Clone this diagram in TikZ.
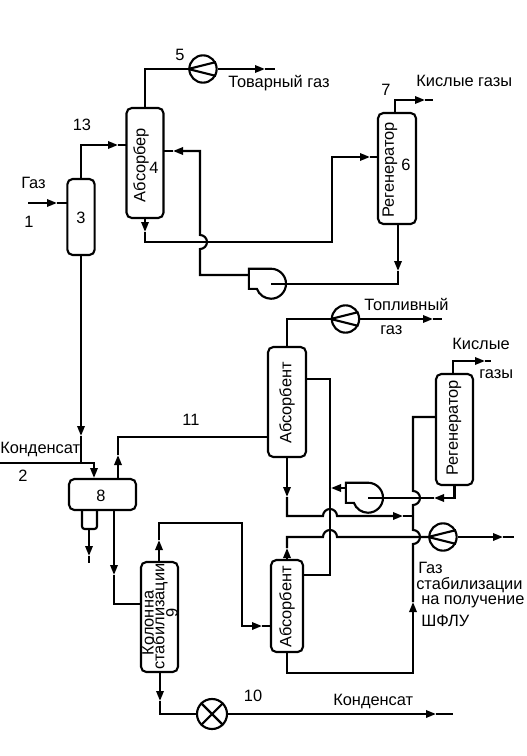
\documentclass[tikz,border=0pt]{standalone}
\usepackage{fontspec}
\setmainfont{Liberation Sans}
\usetikzlibrary{arrows.meta, positioning, shapes}
\newcommand{\humpup}{arc[start angle=180,end angle=0,radius=5.25pt]}
\newcommand{\humpright}{arc[start angle=90,end angle=-90,radius=5.25pt]}
\newcommand{\humpback}{arc[start angle=-90,end angle=90,radius=5.25pt]}

\begin{document}
\begin{tikzpicture}[x=0.75pt,y=-0.75pt,
          wire/.style={draw,line width=1.6pt,line join=miter},
          tip/.style={-{Triangle[length=7.5pt,width=5.5pt]}},
          vessel/.style={draw,line width=1.6pt,rounded corners=4pt,inner sep=0pt},
          comp/.style={draw,circle,line width=1.6pt,minimum size=20.5pt,inner sep=0pt},
          pumpbody/.style={circle,minimum size=22.5pt,inner sep=0pt},
          txt/.style={font=\fontsize{12.3}{12}\selectfont,inner sep=0pt},
          vtxt/.style={txt,rotate=90}]
        \useasboundingbox (0,0) rectangle (527,756);
        % apparatus
        \node[vessel,minimum width=20.5pt,minimum height=57pt](sep3) at (81,217){};
        \node[vessel,minimum width=27.75pt,minimum height=82.5pt](abs4) at (145,163){};
        \node[vessel,minimum width=28.5pt,minimum height=83.25pt](reg6) at (397,168.5){};
        \node[vessel,minimum width=50.25pt,minimum height=23.25pt](sep8) at (102.5,494.5){};
        \node[vessel,minimum width=27.75pt,minimum height=82.5pt](col9) at (159.5,617){};
        \node[vessel,minimum width=28.5pt,minimum height=82.5pt](absU) at (287,402){};
        \node[vessel,minimum width=27.75pt,minimum height=83.25pt](regL) at (454.5,429.5){};
        \node[vessel,minimum width=24pt,minimum height=69pt](absD) at (287,606){};
        \node[comp](comp5) at (203,69){};
        \node[comp](compU) at (345.5,319){};
        \node[comp](compL) at (443,537){};
        \node[comp,minimum size=22.5pt](valve) at (212,714){};
        \node[pumpbody](pump1) at (271,284){};
        \node[pumpbody](pump2) at (368,498){};
        \foreach \c in {comp5,compU,compL}
          \draw[line width=1.6pt](\c.west)--(\c.28) (\c.west)--(\c.-28);
        \draw[line width=1.6pt](valve.45)--(valve.225) (valve.135)--(valve.-45);
        \foreach \p in {pump1,pump2}
          \draw[wire](\p.north) arc[start angle=90,end angle=-160,radius=11.25pt]
            -- ++(-8,0) |- (\p.north);
        \draw[wire,rounded corners=2pt](82,510)--(82,529)--(97,529)--(97,510);
        \coordinate (sep8boot) at (89,529);
        % upper train
        \coordinate (gasin) at (28,203);
        \coordinate (gastip) at (57,203);
        \coordinate (sep3in) at (68,203);
        \draw[wire,tip](gasin)--(gastip);
        \draw[wire](gastip)--(sep3in);
        \coordinate (abs4gas) at (127,145);
        \coordinate (abs4gastip) at (118,145);
        \draw[wire,tip](sep3.north)|-(abs4gastip);
        \draw[wire](abs4gastip)--(abs4gas);
        \draw[wire](abs4.north)|-(comp5.west);
        \coordinate (comp5tip) at (265,69);
        \coordinate (comp5out) at (275,69);
        \draw[wire,tip](comp5.east)--(comp5tip);
        \draw[wire](comp5tip)--(comp5out);
        \coordinate (abs4lean) at (164,151);
        \coordinate (abs4leantip) at (173,151);
        \coordinate (pump1out) at (249,275);
        \draw[wire,tip](pump1out)--(200,275)--(200,249) \humpback --(200,151)--(abs4leantip);
        \draw[wire](abs4leantip)--(abs4lean);
        \coordinate (abs4tip) at (145,232);
        \draw[wire,tip](abs4.south)--(abs4tip);
        \coordinate (reg6in) at (378,157);
        \coordinate (reg6intip) at (370,157);
        \draw[wire,tip](abs4tip)--(145,242)--(332,242)--(332,157)--(reg6intip);
        \draw[wire](reg6intip)--(reg6in);
        \coordinate (reg6top) at (395,113);
        \coordinate (reg6toptip) at (425,100);
        \coordinate (reg6out) at (433,100);
        \draw[wire,tip](reg6top)|-(reg6toptip);
        \draw[wire](reg6toptip)--(reg6out);
        \coordinate (reg6tip) at (398,271);
        \coordinate (reg6bot) at (398,224);
        \draw[wire,tip](reg6bot)--(reg6tip);
        \draw[wire](reg6tip)|-(pump1.center);
        % condensate
        \coordinate (condin) at (0,463);
        \coordinate (sep8intip) at (94,478);
        \draw[wire,tip](condin)-|(sep8intip);
        \coordinate (sep3tip) at (81,436);
        \draw[wire,tip](sep3.south)--(sep3tip);
        \draw[wire](sep3tip)--(81,463);
        \coordinate (sep8gas) at (118,479);
        \coordinate (sep8gastip) at (118,455);
        \coordinate (absUwest) at (268,437);
        \draw[wire,tip](sep8gas)--(sep8gastip);
        \draw[wire](sep8gastip)|-(absUwest);
        \coordinate (sep8liq) at (114,510);
        \coordinate (sep8liqtip) at (114,575);
        \coordinate (col9in) at (141,604);
        \draw[wire,tip](sep8liq)--(sep8liqtip);
        \draw[wire](sep8liqtip)|-(col9in);
        \coordinate (boottip) at (89,556);
        \coordinate (bootout) at (89,563);
        \draw[wire,tip](sep8boot)--(boottip);
        \draw[wire](boottip)--(bootout);
        % stabilization
        \coordinate (col9top) at (159,562);
        \coordinate (col9tip) at (159,540);
        \coordinate (absDin) at (271,626);
        \coordinate (absDintip) at (262,626);
        \draw[wire,tip](col9top)--(col9tip);
        \draw[wire,tip](col9tip)|-(242,523)--(242,626)--(absDintip);
        \draw[wire](absDintip)--(absDin);
        \coordinate (col9bottip) at (160,701);
        \coordinate (col9bot) at (160,672);
        \draw[wire,tip](col9bot)--(col9bottip);
        \draw[wire](col9bottip)|-(valve.west);
        \coordinate (valvetip) at (436,714);
        \coordinate (valveout) at (453,714);
        \draw[wire,tip](valve.east)--(valvetip);
        \draw[wire](valvetip)--(valveout);
        % lower train
        \draw[wire](absU.north)|-(compU.west);
        \coordinate (compUtip) at (433,319);
        \coordinate (compUout) at (442,319);
        \draw[wire,tip](compU.east)--(compUtip);
        \draw[wire](compUtip)--(compUout);
        \coordinate (regLtip) at (485,361);
        \coordinate (regLout) at (491,361);
        \coordinate (regLtop) at (453,374);
        \draw[wire,tip](regLtop)|-(regLtip);
        \draw[wire](regLtip)--(regLout);
        \coordinate (absUtip) at (287,497);
        \draw[wire,tip](absU.south)--(absUtip);
        \coordinate (richtip) at (403,516);
        \draw[wire,tip](absUtip)--(287,516)--(323,516) \humpup --(richtip);
        \coordinate (richend) at (413,516);
        \draw[wire](richtip)--(richend);
        \coordinate (absDtip) at (287,548);
        \draw[wire,tip](absD.north)--(absDtip);
        \draw[wire](absDtip)--(287,537)--(323,537) \humpup --(compL.west);
        \coordinate (compLtip) at (503,537);
        \coordinate (compLout) at (514,537);
        \draw[wire,tip](compL.east)--(compLtip);
        \draw[wire](compLtip)--(compLout);
        % lean absorbent loop
        \coordinate (regLwest) at (436,417);
        \coordinate (absDup) at (413,602);
        \draw[wire](regLwest)-|(413,491) \humpright --(413,530) \humpright --(absDup);
        \draw[wire,tip](absD.south)|-(413,673)--(absDup);
        \coordinate (pump2tip) at (434,498);
        \draw[wire,tip](regL.south)|-(pump2tip);
        \draw[wire](pump2tip)--(pump2.center);
        \coordinate (absUeast) at (306,379);
        \coordinate (absDeast) at (303,575);
        \draw[wire](absUeast)-|(330,575)--(absDeast);
        \coordinate (pump2out) at (346,488);
        \draw[wire,tip](pump2out)--(331,488);
        % labels
        \node[txt](lab5) at (180,55){5};
        \node[txt,anchor=west](labprod) at (228,83){Товарный газ};
        \node[txt](lab13) at (82,125){13};
        \node[txt,anchor=west](labgas) at (21,183){Газ};
        \node[txt](lab1) at (29,222){1};
        \node[txt](lab3) at (81,218){3};
        \node[vtxt](lababs4) at (141,165){Абсорбер};
        \node[txt](lab4) at (154,168){4};
        \node[txt](lab7) at (386,90){7};
        \node[txt,anchor=west](labacid1) at (416,81){Кислые газы};
        \node[vtxt](labreg6) at (390,170){Регенератор};
        \node[txt](lab6) at (406,165){6};
        \node[txt,anchor=west](labfuel) at (364,304){Топливный};
        \node[txt,anchor=west](labfuel2) at (380,330){газ};
        \node[txt,anchor=west](labacid2) at (452,344){Кислые};
        \node[txt,anchor=west](labacid3) at (479,374){газы};
        \node[vtxt](lababsU) at (287,403){Абсорбент};
        \node[vtxt](labregL) at (454,428){Регенератор};
        \node[txt](lab11) at (191,420){11};
        \node[txt,anchor=west](labcond) at (0,449){Конденсат};
        \node[txt](lab2) at (23,476){2};
        \node[txt](lab8) at (101,496){8};
        \node[vtxt](labcol9a) at (148,623){Колонна};
        \node[vtxt](labcol9b) at (160,616.5){стабилизации};
        \node[vtxt](lab9) at (172,613){9};
        \node[vtxt](lababsD) at (287,607){Абсорбент};
        \node[txt](lab10) at (253,696){10};
        \node[txt,anchor=west](labcond2) at (333,701){Конденсат};
        \node[txt,anchor=west](labst1) at (418,568){Газ};
        \node[txt,anchor=west](labst2) at (416,585){стабилизации};
        \node[txt,anchor=west](labst3) at (421,602){на получение};
        \node[txt,anchor=west](labst4) at (421,621){ШФЛУ};
      \end{tikzpicture}
\end{document}
